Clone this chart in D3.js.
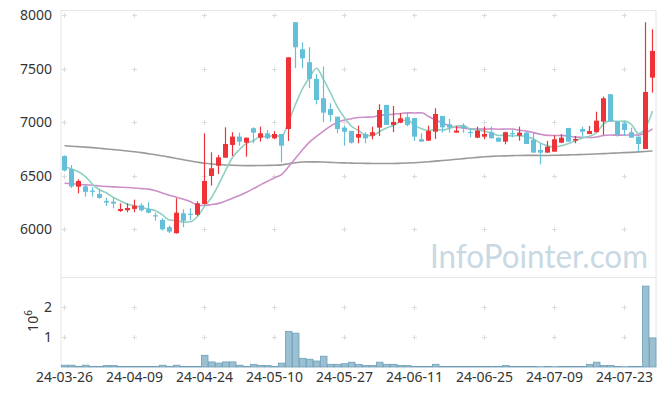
<!DOCTYPE html>
<html>
<head>
<meta charset="utf-8">
<script src="https://cdn.jsdelivr.net/npm/d3@7"></script>
<style>
  body { margin: 0; background: #fff; }
  svg { display: block; font-family: "Noto Sans", sans-serif; }
</style>
</head>
<body>
<div id="chart"></div>
<script>
const WIDTH = 665;
const HEIGHT = 396;

// trading days
const dates = [
  "2024-03-26","2024-03-27","2024-03-28","2024-03-29",
  "2024-04-01","2024-04-02","2024-04-03","2024-04-04","2024-04-05","2024-04-08","2024-04-09","2024-04-11","2024-04-12",
  "2024-04-15","2024-04-16","2024-04-17","2024-04-18","2024-04-19","2024-04-22","2024-04-23","2024-04-24","2024-04-25",
  "2024-04-26","2024-04-29","2024-04-30",
  "2024-05-02","2024-05-03","2024-05-07","2024-05-08","2024-05-09","2024-05-10","2024-05-13","2024-05-14","2024-05-16",
  "2024-05-17","2024-05-20","2024-05-21","2024-05-22","2024-05-23","2024-05-24","2024-05-27","2024-05-28","2024-05-29",
  "2024-05-30","2024-05-31",
  "2024-06-03","2024-06-04","2024-06-05","2024-06-07","2024-06-10","2024-06-11","2024-06-12","2024-06-13","2024-06-14",
  "2024-06-17","2024-06-18","2024-06-19","2024-06-20","2024-06-21","2024-06-24","2024-06-25","2024-06-26","2024-06-27",
  "2024-06-28",
  "2024-07-01","2024-07-02","2024-07-03","2024-07-04","2024-07-05","2024-07-08","2024-07-09","2024-07-10","2024-07-11",
  "2024-07-12","2024-07-15","2024-07-16","2024-07-17","2024-07-18","2024-07-19","2024-07-22","2024-07-23","2024-07-24",
  "2024-07-25","2024-07-26","2024-07-29"
];

const open = [6685,6562,6398,6400,6362,6330,6265,6258,6171,6178,6190,6224,6187,6131,6087,6020,5963,6149,6145,6136,
  6236,6498,6594,6669,6788,6866,6809,6944,6856,6897,6850,6890,6937,7935,7682,7561,7405,7224,7124,7052,
  6950,6919,6856,6888,6875,6950,7162,6975,6996,7047,7040,6841,6828,6912,7059,6981,6903,6965,6910,6856,
  6865,6907,6856,6819,6900,6875,6903,6835,6741,6716,6725,6809,6947,6828,6937,6890,6907,7006,7262,7006,
  6990,6907,6866,6750,7417];
const high = [6690,6600,6467,6414,6395,6377,6295,6290,6243,6243,6277,6243,6252,6155,6103,6035,6290,6187,6196,6262,
  6897,6719,6694,6953,6907,6903,6856,6953,6959,6928,6918,6890,7607,7935,7748,7701,7451,7520,7178,7052,
  6968,6919,6968,6907,6959,7168,7162,7152,7084,7090,7040,6897,6968,7131,7059,7031,6965,6990,6944,6959,
  6959,6959,6856,6912,6928,6959,6910,6903,6804,6825,6881,6888,6947,6872,6959,6965,7099,7240,7262,7006,
  7006,6950,6866,7935,7869];
const low = [6540,6385,6336,6305,6305,6286,6218,6196,6162,6159,6159,6165,6150,6080,5987,5965,5960,6019,6087,6125,
  6230,6408,6517,6669,6685,6781,6679,6804,6819,6841,6841,6626,6825,7505,7505,7318,7168,7000,7006,6897,
  6781,6800,6804,6804,6841,6872,6975,6907,6991,6963,6825,6819,6828,6844,6903,6903,6903,6903,6860,6850,
  6841,6850,6819,6794,6860,6828,6797,6716,6607,6716,6725,6804,6819,6804,6866,6890,6907,6881,7006,6866,
  6872,6856,6725,6750,7277];
const close = [6550,6400,6451,6350,6350,6293,6250,6240,6190,6199,6220,6178,6155,6120,6000,5978,6155,6080,6140,6243,
  6451,6570,6672,6797,6866,6819,6856,6903,6897,6850,6890,6781,7607,7701,7598,7405,7208,7090,7068,6937,
  6912,6809,6890,6850,6907,7115,6975,7003,7037,6975,6865,6819,6919,7077,6953,6950,6922,6944,6900,6922,
  6890,6850,6819,6907,6895,6903,6797,6716,6716,6772,6841,6856,6819,6844,6912,6919,7015,7224,7006,6881,
  6928,6856,6797,7283,7666];

// volume, millions of shares
const volume = [0.06,0.06,0.02,0.06,0.02,0.02,0.05,0.05,0.02,0.02,0.02,0.02,0.02,0.02,0.06,0.02,0.06,0.02,0.02,0.02,
  0.39,0.17,0.13,0.17,0.17,0.06,0.02,0.09,0.05,0.05,0.02,0.13,1.19,1.13,0.29,0.26,0.20,0.36,0.09,0.09,
  0.11,0.16,0.09,0.05,0.05,0.16,0.09,0.09,0.05,0.05,0.02,0.02,0.02,0.09,0.02,0.02,0.02,0.02,0.02,0.02,
  0.02,0.02,0.02,0.05,0.02,0.02,0.02,0.02,0.01,0.02,0.01,0.02,0.02,0.02,0.02,0.09,0.16,0.05,0.05,0.02,
  0.01,0.02,0.02,2.70,0.97];

// moving averages as drawn
const ma5 = [6585,6563,6538,6492,6420,6369,6339,6297,6265,6234,6220,6205,6188,6174,6135,6086,6082,6067,6071,6119,
  6214,6297,6415,6547,6671,6745,6802,6828,6868,6865,6879,6864,7005,7166,7315,7418,7504,7400,7274,7142,
  7043,6963,6923,6880,6874,6914,6947,6970,7007,7021,6971,6940,6923,6931,6927,6944,6964,6969,6934,6928,
  6916,6901,6876,6878,6872,6875,6864,6844,6805,6781,6768,6780,6801,6826,6854,6870,6902,6983,7015,7009,
  7011,6979,6894,6949,7106];
const ma20 = [6430,6425,6420,6415,6412,6405,6400,6396,6393,6390,6386,6380,6375,6360,6340,6318,6300,6280,6258,6227,
  6222,6231,6242,6264,6290,6316,6346,6380,6415,6448,6481,6511,6584,6663,6743,6814,6867,6917,6964,6998,
  7021,7033,7044,7047,7049,7064,7070,7075,7082,7088,7087,7089,7054,7023,6991,6968,6954,6946,6938,6937,
  6936,6938,6935,6937,6937,6926,6917,6903,6887,6877,6876,6877,6872,6861,6859,6857,6862,6876,6881,6879,
  6881,6881,6880,6899,6938];
const maLong = [6780,6776,6772,6768,6763,6757,6750,6744,6738,6731,6724,6716,6706,6696,6685,6674,6662,6650,6638,6627,
  6617,6610,6605,6601,6598,6596,6595,6595,6596,6597,6598,6602,6612,6622,6628,6630,6630,6628,6625,6622,
  6620,6618,6617,6616,6615,6614,6614,6615,6617,6619,6622,6626,6631,6637,6643,6648,6654,6660,6666,6672,
  6677,6681,6684,6686,6688,6690,6691,6691,6690,6690,6691,6693,6695,6697,6699,6701,6704,6707,6710,6713,
  6716,6719,6723,6727,6732];

const priceTicks = [6000, 6500, 7000, 7500, 8000];
const volumeTicks = [1, 2];
const dateTickIdx = [0, 10, 20, 30, 40, 50, 60, 70, 80];

const PLOT = {left: 61, right: 656, top: 10, split: 277, bottom: 367};
const UP = "#ee3338";
const DOWN = "#64bfd8";

const svg = d3.select("#chart").append("svg")
  .attr("width", WIDTH)
  .attr("height", HEIGHT);

const X = d3.scaleBand()
  .domain(d3.range(dates.length))
  .range([PLOT.left, PLOT.right]);
const cx = (i) => X(i) + X.bandwidth() / 2;

const Y = d3.scaleLinear().domain([5554, 8049]).range([PLOT.split, PLOT.top]);
const YV = d3.scaleLinear().domain([0, 2.97]).range([PLOT.bottom, PLOT.split + 1]);

// frame lines
const frame = svg.append("g").attr("stroke", "#e6e6e6").attr("fill", "none");
frame.append("line").attr("x1", PLOT.left).attr("x2", PLOT.left).attr("y1", PLOT.top).attr("y2", PLOT.bottom);
frame.append("line").attr("x1", PLOT.right).attr("x2", PLOT.right).attr("y1", PLOT.top).attr("y2", PLOT.bottom);
frame.append("line").attr("x1", PLOT.left).attr("x2", PLOT.right).attr("y1", PLOT.top + 0.5).attr("y2", PLOT.top + 0.5);
frame.append("line").attr("x1", PLOT.left).attr("x2", PLOT.right).attr("y1", PLOT.split + 0.5).attr("y2", PLOT.split + 0.5);

// little + marks on the grid
function crosses(yVals) {
  const g = svg.append("g").attr("stroke", "#dcdcdc");
  dateTickIdx.forEach((i) => {
    yVals.forEach((y) => {
      g.append("line").attr("x1", cx(i) - 2.5).attr("x2", cx(i) + 2.5).attr("y1", y).attr("y2", y);
      g.append("line").attr("x1", cx(i)).attr("x2", cx(i)).attr("y1", y - 2.5).attr("y2", y + 2.5);
    });
  });
}
crosses(priceTicks.map((p) => Math.round(Y(p)) + 0.5));
crosses(volumeTicks.map((v) => Math.round(YV(v)) + 0.5));

// watermark
svg.append("text")
  .attr("x", 430).attr("y", 268)
  .attr("textLength", 218).attr("lengthAdjust", "spacingAndGlyphs")
  .attr("font-family", "Lato, sans-serif")
  .attr("font-size", 33)
  .attr("fill", "#c9d9e3")
  .text("InfoPointer.com");

// moving averages
const lineGen = d3.line().x((d, i) => cx(i)).y((d) => Y(d)).curve(d3.curveMonotoneX);
[[maLong, "#9a9a9a"], [ma20, "#cc8fc8"], [ma5, "#8fd0c2"]].forEach(([arr, col]) => {
  svg.append("path").datum(arr)
    .attr("d", lineGen)
    .attr("fill", "none")
    .attr("stroke", col)
    .attr("stroke-width", 1.6);
});

// candles
const candles = svg.selectAll(".candle")
  .data(d3.range(dates.length))
  .enter().append("g")
  .attr("class", "candle");

candles.append("line")
  .attr("x1", (i) => cx(i)).attr("x2", (i) => cx(i))
  .attr("y1", (i) => Y(high[i])).attr("y2", (i) => Y(low[i]))
  .attr("stroke", (i) => close[i] >= open[i] ? UP : DOWN)
  .attr("stroke-width", 1.2);

candles.append("rect")
  .attr("x", (i) => cx(i) - 2.5)
  .attr("width", 5)
  .attr("y", (i) => Y(Math.max(open[i], close[i])))
  .attr("height", (i) => Math.max(1.2, Math.abs(Y(open[i]) - Y(close[i]))))
  .attr("fill", (i) => close[i] >= open[i] ? UP : DOWN);

// volume bars
svg.selectAll(".vol")
  .data(volume)
  .enter().append("rect")
  .attr("class", "vol")
  .attr("x", (d, i) => X(i) + 0.5)
  .attr("width", X.bandwidth() - 0.5)
  .attr("y", (d) => YV(d))
  .attr("height", (d) => YV(0) - YV(d))
  .attr("fill", "#9bc0d1")
  .attr("stroke", "#6e9fb8")
  .attr("stroke-width", 0.8);

// axes
const yAxis = svg.append("g")
  .attr("transform", `translate(${PLOT.left - 6},0)`)
  .call(d3.axisLeft(Y).tickValues(priceTicks).tickSize(0).tickFormat(d3.format("d")));
const vAxis = svg.append("g")
  .attr("transform", `translate(${PLOT.left - 6},0)`)
  .call(d3.axisLeft(YV).tickValues(volumeTicks).tickSize(0).tickFormat(d3.format("d")));
const xAxis = svg.append("g")
  .attr("transform", `translate(0,${PLOT.bottom + 4})`)
  .call(d3.axisBottom(X).tickValues(dateTickIdx).tickSize(0)
    .tickFormat((i) => dates[i].slice(2)));

[yAxis, vAxis, xAxis].forEach((ax) => {
  ax.select(".domain").remove();
  ax.selectAll("text")
    .attr("fill", "#333")
    .attr("font-family", "Noto Sans, sans-serif")
    .attr("font-size", 14);
});
xAxis.selectAll("text").attr("dy", "0.75em").attr("y", 0);

// 10^6 exponent label
const expo = svg.append("text")
  .attr("transform", "translate(38,321) rotate(-90)")
  .attr("text-anchor", "middle")
  .attr("fill", "#333")
  .attr("font-size", 14);
expo.append("tspan").text("10");
expo.append("tspan").attr("dy", -6).attr("font-size", 10).text("6");
</script>
</body>
</html>
